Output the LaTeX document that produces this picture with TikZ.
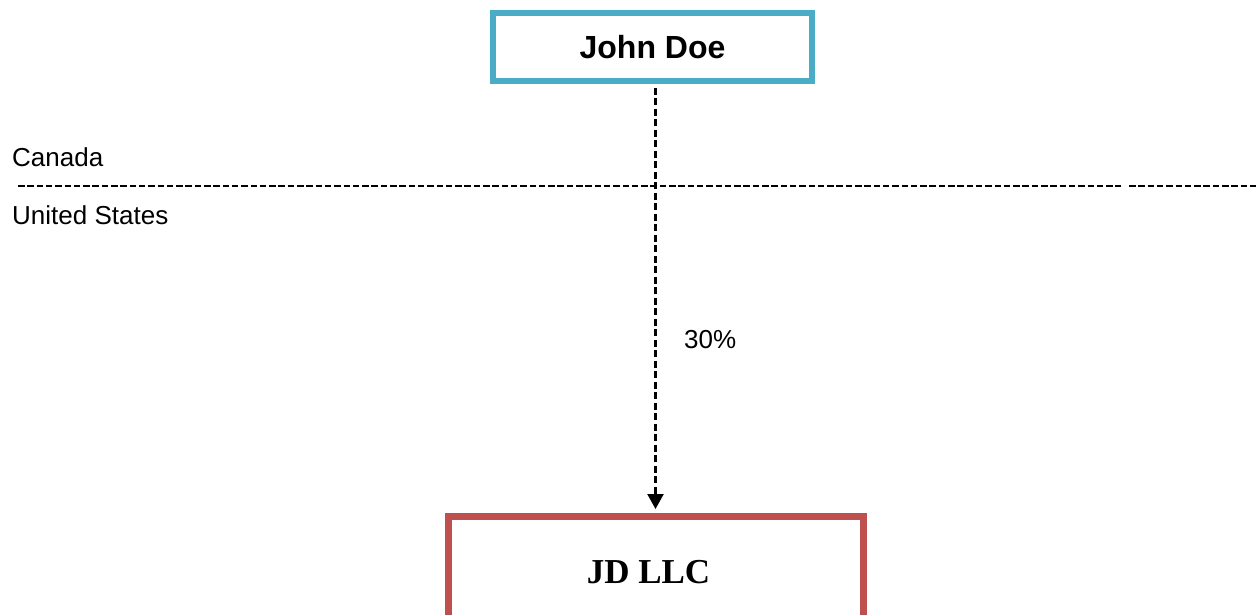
\documentclass[tikz,border=0pt]{standalone}
\usepackage{fontspec}
\setmainfont{Liberation Sans}
\newfontfamily\timesfont{Liberation Serif}
\usetikzlibrary{arrows.meta}
\definecolor{jdblue}{RGB}{75,172,198}
\definecolor{jdred}{RGB}{192,80,77}
\tikzset{
  person/.style={draw=jdblue, line width=6.5pt, fill=white, minimum width=319pt, minimum height=68pt, inner sep=0pt, font=\bfseries\fontsize{32}{36}\selectfont},
  entity/.style={draw=jdred, line width=7pt, fill=white, minimum width=415pt, minimum height=112pt, inner sep=0pt, font=\timesfont\bfseries\fontsize{35}{40}\selectfont},
  lbl/.style={inner sep=0pt, anchor=base west, font=\fontsize{26}{30}\selectfont},
  border/.style={black, line width=2.8pt, dash pattern=on 6.5pt off 2.8pt},
  own/.style={black, line width=2.2pt, dash pattern=on 7pt off 3.5pt, -{Triangle[width=16pt,length=15pt]}}
}
\begin{document}
\begin{tikzpicture}[x=1pt,y=-1pt]
\useasboundingbox (0,0) rectangle (1258,614);
\node[person] (john) at (652.5,47) {John Doe};
\node[entity] (jd) at (655.5,572) {\hspace*{-14pt}JD LLC};
\node[lbl] (canada) at (12,166) {Canada};
\node[lbl] (us) at (12,224) {United States};
\node[lbl] (pct) at (684,348) {30\%};
\coordinate (b1) at (18,186);
\coordinate (b2) at (1121,186);
\coordinate (b3) at (1129,186);
\coordinate (b4) at (1258,186);
\draw[border] (b1) -- (b2);
\draw[border] (b3) -- (b4);
\draw[own] ([yshift=-3.5pt]john.south -| jd.north) -- ([yshift=3.5pt]jd.north);
\end{tikzpicture}
\end{document}
